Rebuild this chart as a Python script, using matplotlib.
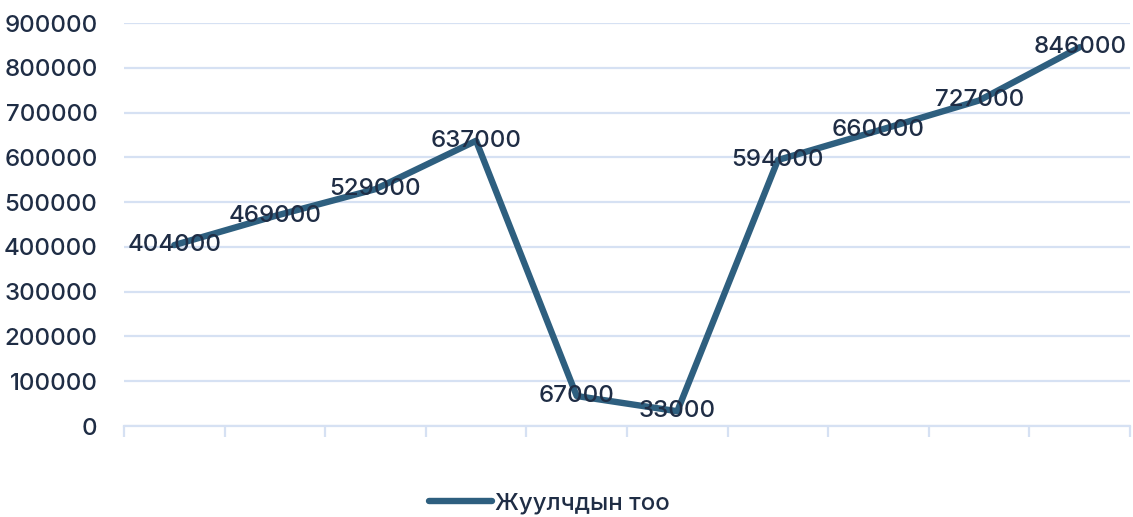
import numpy as np
import matplotlib
matplotlib.use("Agg")
import matplotlib.pyplot as plt
from matplotlib.lines import Line2D

# Tourist arrivals by period
values = [404000, 469000, 529000, 637000, 67000, 33000, 594000, 660000, 727000, 846000]
series_name = "Жуулчдын тоо"
y_ticks = list(range(0, 900001, 100000))

LINE = "#2E5F7F"
TEXT = "#1F2D45"
GRID = "#D6E1F3"
FS = 17.3

plt.rcParams["font.family"] = ["Inter", "DejaVu Sans"]
plt.rcParams["font.weight"] = "medium"

fig = plt.figure(figsize=(11.33, 5.17), dpi=100)
ax = fig.add_axes([0.1094, 0.176, 0.888, 0.7795])

x = np.arange(len(values)) + 0.5
ax.plot(x, values, color=LINE, linewidth=4.6, solid_capstyle="round",
        solid_joinstyle="round", zorder=3)

for xi, v in zip(x, values):
    ax.text(xi, v, f"{v}", ha="center", va="center", fontsize=FS,
            color=TEXT, zorder=4)

ax.set_xlim(0, len(values))
ax.set_ylim(0, 900000)
ax.set_yticks(y_ticks)
ax.set_yticklabels([str(t) for t in y_ticks], fontsize=FS, color=TEXT)
ax.set_xticks(np.arange(len(values) + 1))
ax.set_xticklabels([])

ax.grid(axis="y", color=GRID, linewidth=1.6, zorder=0)
for s in ["top", "right", "left"]:
    ax.spines[s].set_visible(False)
ax.spines["bottom"].set_color(GRID)
ax.spines["bottom"].set_linewidth(1.6)
ax.tick_params(axis="y", length=0, pad=19)
ax.tick_params(axis="x", length=8, width=1.6, color=GRID)

handle = Line2D([], [], color=LINE, linewidth=4.6, solid_capstyle="round")
fig.legend([handle], [series_name], loc="center", bbox_to_anchor=(0.485, 0.027),
           frameon=False, fontsize=FS, handlelength=2.6, handletextpad=0.15,
           labelcolor=TEXT)

fig.savefig("out.png", dpi=100, facecolor="white")
